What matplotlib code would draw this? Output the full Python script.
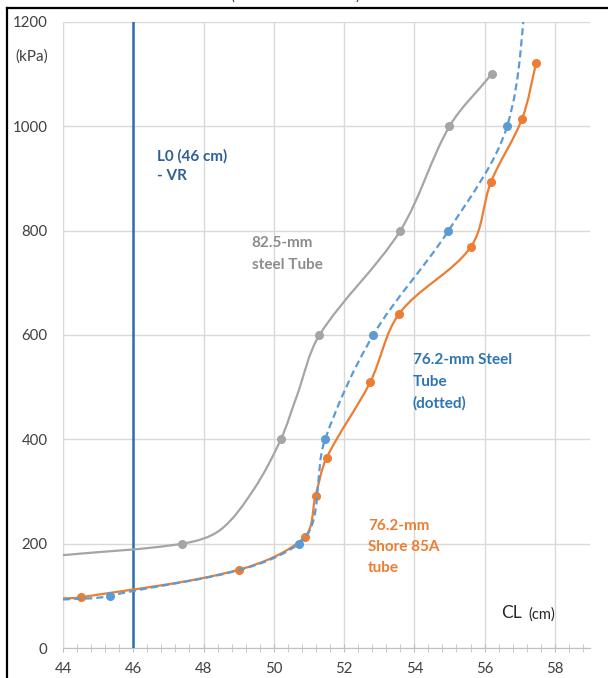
import numpy as np
import matplotlib
matplotlib.use("Agg")
import matplotlib.pyplot as plt
from matplotlib.path import Path
from matplotlib.patches import PathPatch
from matplotlib.lines import Line2D
from matplotlib.ticker import MultipleLocator

plt.rcParams['font.family'] = ['Lato', 'DejaVu Sans']

# points; *_mark says which of them carry a marker
# (unmarked ones are read along the drawn curve, e.g. where it enters at the left edge)
gray_x = [44.0, 47.4, 48.47, 49.42, 50.2, 50.65, 51.3, 53.6, 55.0, 56.2]
gray_y = [178, 200, 226, 303, 400, 482, 600, 800, 1000, 1100]
gray_mark = [0, 1, 0, 0, 1, 0, 1, 1, 1, 1]
blue_x = [44.0, 45.34, 50.72, 51.46, 52.83, 54.97, 56.64, 57.25]
blue_y = [93, 100, 200, 400, 600, 800, 1000, 1300]
blue_mark = [0, 1, 1, 1, 1, 1, 1, 1]
orange_x = [44.0, 44.5, 49.0, 50.88, 51.19, 51.5, 52.74, 53.57, 55.61, 56.18, 57.07, 57.47]
orange_y = [95, 97, 150, 213, 292, 364, 509, 641, 769, 893, 1015, 1122]
orange_mark = [0] + [1] * 11
L0 = 46

x_ticks = [44, 46, 48, 50, 52, 54, 56, 58]
y_ticks = [0, 200, 400, 600, 800, 1000, 1200]

c_gray = '#A5A5A5'
c_blue = '#5B9BD5'
c_orange = '#ED7D31'

W, H = 608, 678
fig = plt.figure(figsize=(W / 100, H / 100), dpi=100, facecolor='white')
ax = fig.add_axes([63 / W, (H - 648) / H, (590 - 63) / W, (648 - 22) / H])
ax.set_xlim(44, 59)
ax.set_ylim(0, 1200)
ax.set_xticks(x_ticks)
ax.set_yticks(y_ticks)
ax.xaxis.set_minor_locator(MultipleLocator(0.4))
ax.grid(True, which='major', color='#D9D9D9', lw=1)
ax.set_axisbelow(True)
for s in ['top', 'right']:
    ax.spines[s].set_visible(False)
ax.spines['left'].set_color('#D9D9D9')
ax.spines['bottom'].set_color('#BFBFBF')
ax.tick_params(axis='y', length=0, pad=11, labelsize=10.8, labelcolor='#404040')
ax.tick_params(axis='x', which='both', direction='inout', length=6, color='#BFBFBF',
               pad=7, labelsize=10.8, labelcolor='#404040')


def smooth_curve(xs, ys, **kw):
    # Excel-like smoothed line drawn as cubic bezier through the points
    pts = np.column_stack([xs, ys]).astype(float)
    disp = ax.transData.transform(pts)
    n = len(pts)
    verts = [pts[0]]
    codes = [Path.MOVETO]
    for i in range(n - 1):
        i0 = max(i - 1, 0)
        i3 = min(i + 2, n - 1)
        d01 = np.linalg.norm(disp[i] - disp[i0])
        d12 = np.linalg.norm(disp[i + 1] - disp[i])
        d23 = np.linalg.norm(disp[i3] - disp[i + 1])
        c1 = pts[i] + (pts[i + 1] - pts[i0]) * d12 / (d01 + d12) / 3
        c2 = pts[i + 1] - (pts[i3] - pts[i]) * d12 / (d12 + d23) / 3
        verts += [c1, c2, pts[i + 1]]
        codes += [Path.CURVE4] * 3
    ax.add_patch(PathPatch(Path(verts, codes), fill=False, capstyle='butt', **kw))


def markers(xs, ys, mark, color, z):
    m = np.array(mark, dtype=bool)
    ax.plot(np.array(xs)[m], np.array(ys)[m], 'o', ms=5.5, color=color, zorder=z)


ax.axvline(L0, color='#2E6DB0', lw=1.8, zorder=3)

smooth_curve(gray_x, gray_y, edgecolor=c_gray, lw=1.6, zorder=4)
markers(gray_x, gray_y, gray_mark, c_gray, 5)
smooth_curve(orange_x, orange_y, edgecolor=c_orange, lw=1.6, zorder=4)
markers(orange_x, orange_y, orange_mark, c_orange, 5)
smooth_curve(blue_x, blue_y, edgecolor=c_blue, lw=1.6, linestyle=(0, (3.2, 1.8)), zorder=6)
markers(blue_x, blue_y, blue_mark, c_blue, 7)

# annotations
bold = dict(fontsize=11, fontweight='bold')
for txt, y in [('L0 (46 cm)', 935), ('- VR', 897)]:
    ax.text(46.67, y, txt, color='#2F5F93', **bold)
for txt, y in [('82.5-mm', 768), ('steel Tube', 727)]:
    ax.text(49.37, y, txt, color='#8C8C8C', **bold)
for txt, y in [('76.2-mm Steel', 545), ('Tube', 503), ('(dotted)', 461)]:
    ax.text(53.96, y, txt, color='#2E75B6', **bold)
for txt, y in [('76.2-mm', 227), ('Shore 85A', 186), ('tube', 146)]:
    ax.text(52.68, y, txt, color=c_orange, **bold)
ax.text(56.46, 57, 'CL', fontsize=12.5, color='#262626')
ax.text(57.26, 57, '(cm)', fontsize=10.5, color='#262626')
fig.text(32 / W, 1 - 57 / H, '(kPa)', ha='center', va='center', fontsize=11, color='#404040')

# outer frame and clipped title remnants
fig.add_artist(Line2D([7 / W, 1], [1 - 7.5 / H, 1 - 7.5 / H], color='black', lw=1.6,
                      transform=fig.transFigure))
fig.add_artist(Line2D([7 / W, 7 / W], [0, 1 - 7.5 / H], color='black', lw=1.6,
                      transform=fig.transFigure))
fig.text(230 / W, 1 - 3 / H, '(', va='bottom', fontsize=11, color='#404040')
fig.text(355 / W, 1 - 3 / H, ')', va='bottom', fontsize=11, color='#404040')

fig.savefig('out.png', dpi=100, facecolor='white')
